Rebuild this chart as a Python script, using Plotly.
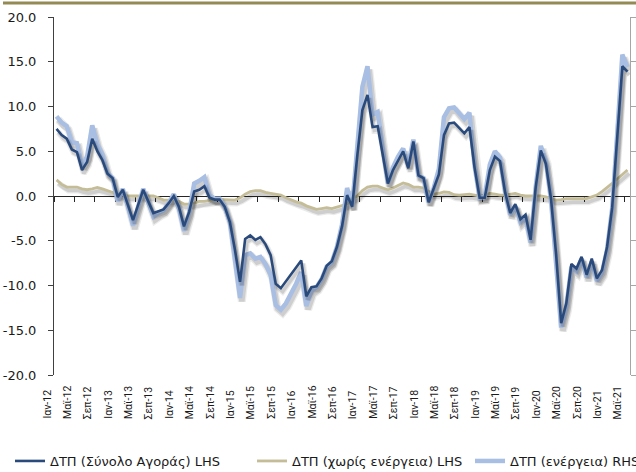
import plotly.graph_objects as go

# Category labels shown every fourth month (Jan 2012 - May 2021)
tick_labels = [
    "Ιαν-12", "Μαϊ-12", "Σεπ-12", "Ιαν-13", "Μαϊ-13", "Σεπ-13", "Ιαν-14", "Μαϊ-14", "Σεπ-14",
    "Ιαν-15", "Μαϊ-15", "Σεπ-15", "Ιαν-16", "Μαϊ-16", "Σεπ-16", "Ιαν-17", "Μαϊ-17", "Σεπ-17",
    "Ιαν-18", "Μαϊ-18", "Σεπ-18", "Ιαν-19", "Μαϊ-19", "Σεπ-19", "Ιαν-20", "Μαϊ-20", "Σεπ-20",
    "Ιαν-21", "Μαϊ-21",
]

# ΔΤΠ (Σύνολο Αγοράς), % y/y, left axis
total = [
    7.5, 6.8, 6.4, 5.2, 4.9, 2.9, 3.8, 6.4, 5.0, 4.0, 2.5, 2.0,
    -0.1, 0.7, -1.0, -2.7, -1.0, 0.7, -0.6, -1.9, -1.7, -1.5, -0.8, 0.0,
    -1.2, -3.4, -1.8, 0.5, 0.7, 1.1, -0.2, -0.4, -0.4, -1.2, -2.9, -6.0,
    -9.6, -4.8, -4.4, -4.9, -4.6, -5.4, -6.6, -9.8, -10.3, -9.5, -8.7, -8.0,
    -7.2, -11.2, -10.2, -10.1, -9.2, -7.8, -7.3, -5.7, -3.4, 0.1, -1.2, 4.5,
    9.6, 11.3, 7.7, 7.8, 4.5, 1.4, 2.9, 4.0, 5.0, 3.1, 6.1, 2.3,
    2.0, -0.7, 0.8, 2.4, 6.8, 8.1, 8.2, 7.6, 7.0, 7.7, 3.2, -0.2,
    -0.2, 2.9, 4.4, 3.9, 0.4, -1.9, -0.9, -2.6, -2.1, -4.9, 1.0, 5.1,
    3.6, -0.3, -6.5, -14.2, -12.0, -7.6, -8.1, -6.8, -8.8, -7.0, -9.2, -8.3,
    -5.7, -1.3, 6.5, 14.5, 13.9,
]

# ΔΤΠ (χωρίς ενέργεια), % y/y, left axis
core = [
    1.8, 1.3, 1.0, 1.0, 1.0, 0.8, 0.7, 0.8, 0.95, 0.8, 0.6, 0.4,
    0.2, 0.1, 0.0, 0.0, 0.0, 0.0, 0.0, 0.0, -0.2, -0.45, -0.45, -0.45,
    -0.6, -0.9, -0.9, -0.8, -0.6, -0.6, -0.5, -0.4, -0.37, -0.4, -0.4, -0.45,
    -0.2, 0.2, 0.48, 0.6, 0.6, 0.4, 0.3, 0.2, 0.1, -0.2, -0.45, -0.65,
    -0.8, -1.1, -1.3, -1.5, -1.4, -1.3, -1.4, -1.25, -1.1, -0.9, -0.3, 0.0,
    0.6, 1.0, 1.1, 1.1, 0.9, 0.7, 0.9, 1.2, 1.45, 1.3, 1.0, 1.0,
    0.9, 0.5, 0.2, 0.3, 0.45, 0.4, 0.15, 0.1, 0.15, 0.2, 0.1, 0.0,
    0.1, 0.3, 0.2, 0.1, 0.1, 0.2, 0.3, 0.1, 0.0, 0.0, 0.0, 0.0,
    -0.1, -0.3, -0.45, -0.4, -0.3, -0.3, -0.3, -0.3, -0.3, -0.1, 0.1, 0.5,
    0.9, 1.4, 1.9, 2.4, 2.9,
]

# ΔΤΠ (ενέργεια), % y/y, right axis
energy = [
    8.9, 8.2, 7.8, 6.0, 5.9, 3.4, 4.4, 7.9, 5.8, 4.6, 2.6, 2.0,
    -0.6, 0.8, -1.2, -3.3, -1.2, 0.8, -0.7, -2.3, -1.9, -1.6, -0.8, 0.2,
    -1.4, -3.9, -1.9, 1.4, 1.7, 2.1, 0.1, -0.3, -0.3, -1.2, -2.9, -7.0,
    -11.4, -6.6, -6.4, -7.0, -6.8, -7.6, -8.8, -12.2, -12.7, -12.0, -11.0, -9.8,
    -8.5, -12.3, -10.6, -10.2, -9.3, -7.9, -7.4, -5.7, -3.2, 0.9, -1.2, 5.0,
    12.2, 14.5, 9.1, 9.4, 5.0, 1.4, 3.2, 4.4, 5.3, 3.4, 6.3, 2.3,
    2.0, -0.7, 0.9, 3.0, 8.8, 9.8, 9.9, 9.2, 8.6, 9.3, 3.4, -0.2,
    -0.1, 3.5, 5.0, 4.3, 0.5, -2.1, -1.1, -2.9, -2.4, -5.2, 1.0, 5.6,
    3.9, -0.3, -7.0, -14.7, -12.4, -7.9, -8.4, -7.0, -9.1, -7.3, -9.5, -8.6,
    -6.0, -1.4, 7.0, 15.8, 14.4,
]

y_ticks = [-20, -15, -10, -5, 0, 5, 10, 15, 20]
y_tick_text = ["-20.0", "-15.0", "-10.0", "-5.0", "0.0", "5.0", "10.0", "15.0", "20.0"]

months = list(range(len(total)))
tick_step = 4
x_range = [-0.5, len(total) - 0.5]
boundary_ticks = [m - 0.5 for m in months[::tick_step]]

DARK = "#2A4A7C"
LIGHT = "#A8BEE2"
TAN = "#C4BD97"
OLIVE = "#948A54"
TEXT = "#1a1a1a"

# drop-shadow look: offset right/down, two soft grey layers
SHADOW_DX = 0.35   # months
SHADOW_DY = 0.38   # percentage points
SHADOW_LAYERS = [(3.5, "rgba(0,0,0,0.08)"), (1.0, "rgba(0,0,0,0.12)")]

W, H = 636, 472
M_L, M_R, M_T, M_B = 54, 6, 17, 97
plot_w = W - M_L - M_R
plot_h = H - M_T - M_B

fig = go.Figure()


def add_series(values, name, color, width, xaxis, yaxis, rank, legend_w):
    sx = [m + SHADOW_DX for m in months]
    sy = [v - SHADOW_DY for v in values]
    for extra, shade in SHADOW_LAYERS:
        fig.add_trace(go.Scatter(
            x=sx, y=sy, xaxis=xaxis, yaxis=yaxis, mode="lines",
            line=dict(color=shade, width=width + extra),
            showlegend=False, hoverinfo="skip",
        ))
    fig.add_trace(go.Scatter(
        x=months, y=values, xaxis=xaxis, yaxis=yaxis, mode="lines",
        name=name, line=dict(color=color, width=width),
        legendrank=rank, legendwidth=legend_w,
    ))


add_series(core, "ΔΤΠ (χωρίς ενέργεια) LHS", TAN, 2.8, "x", "y", 2, 173)
add_series(energy, "ΔΤΠ (ενέργεια) RHS", LIGHT, 4.5, "x", "y2", 3, 128)
add_series(total, "ΔΤΠ (Σύνολο Αγοράς) LHS", DARK, 2.6, "x2", "y", 1, 197)

# Rotated month labels, bottom-aligned under the plot
label_shift = -1.37  # in months, relative to the tick boundary
label_font = dict(family="Roboto", size=10.5, color=TEXT)
annotations = []
for k, lab in enumerate(tick_labels):
    pos = boundary_ticks[k] + label_shift
    annotations.append(dict(
        text=lab, x=(pos - x_range[0]) / (x_range[1] - x_range[0]), xref="paper",
        y=-(421 - (H - M_B)) / plot_h, yref="paper", yanchor="bottom", xanchor="center",
        textangle=-90, showarrow=False, font=label_font,
    ))

fig.update_layout(
    width=W, height=H,
    margin=dict(l=M_L, r=M_R, t=M_T, b=M_B, pad=0, autoexpand=False),
    paper_bgcolor="white", plot_bgcolor="white",
    hovermode=False,
    showlegend=True,
    legend=dict(
        orientation="h", x=(10 - M_L) / plot_w, xanchor="left",
        y=-(461 - (H - M_B)) / plot_h, yanchor="middle",
        font=dict(family="DejaVu Sans", size=13, color=TEXT),
        bgcolor="rgba(0,0,0,0)", itemwidth=30, traceorder="normal",
    ),
    xaxis=dict(
        range=x_range, showticklabels=False, ticks="", showline=False,
        showgrid=False, zeroline=False,
    ),
    xaxis2=dict(
        range=x_range, overlaying="x", anchor="free", position=0.5, side="bottom",
        tickmode="array", tickvals=boundary_ticks, ticks="outside", ticklen=5,
        tickcolor="#262626", showline=True, linecolor="#262626", linewidth=1,
        showticklabels=False, showgrid=False, zeroline=False, layer="below traces",
    ),
    yaxis=dict(
        range=[-20, 20], tickmode="array", tickvals=y_ticks, ticktext=y_tick_text,
        ticks="outside", ticklen=5, tickcolor="#404040", showline=True,
        linecolor="#404040", linewidth=1, showgrid=False, zeroline=False,
        tickfont=dict(family="DejaVu Sans", size=13, color=TEXT),
        ticklabelstandoff=9, layer="below traces",
    ),
    yaxis2=dict(
        range=[-20, 20], overlaying="y", side="right", tickmode="array",
        tickvals=y_ticks, ticks="outside", ticklen=5, tickcolor="#A6A6A6",
        showline=True, linecolor="#A6A6A6", linewidth=1, showticklabels=False,
        showgrid=False, zeroline=False, layer="below traces",
    ),
    annotations=annotations,
    shapes=[dict(
        type="line", xref="paper", yref="paper",
        x0=(3 - M_L) / plot_w, x1=(W - M_L) / plot_w,
        y0=(H - M_B - 3) / plot_h, y1=(H - M_B - 3) / plot_h,
        line=dict(color=OLIVE, width=3),
    )],
)

fig.write_html("out.html", config={"displayModeBar": False})
